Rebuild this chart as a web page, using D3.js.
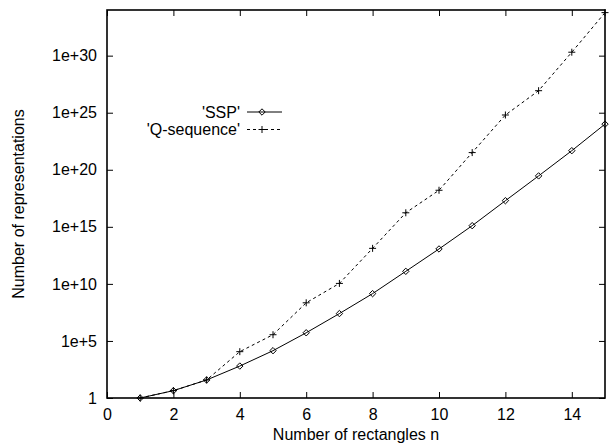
<!DOCTYPE html>
<html>
<head>
<meta charset="utf-8">
<script src="https://cdn.jsdelivr.net/npm/d3@7"></script>
<style>
  body { margin: 0; background: #fff; }
  text { font-family: "Liberation Sans", Arial, Helvetica, sans-serif; font-size: 16px; fill: #000; }
</style>
</head>
<body>
<div id="vis"></div>
<script>
// values
var nValues = [1, 2, 3, 4, 5, 6, 7, 8, 9, 10, 11, 12, 13, 14, 15];
var sspValues = [1, 4.4, 38, 630, 1.4e4, 5.2e5, 2.5e7, 1.4e9, 1.26e11, 1.15e13, 1.26e15, 1.95e17, 2.9e19, 4.7e21, 1e24];
var qseqValues = [1, 4.4, 38, 1.15e4, 3.5e5, 2.2e8, 1.1e10, 1.3e13, 1.7e16, 1.6e18, 3.2e21, 6.3e24, 8.5e26, 2e30, 5.9e33];
var xTicks = [0, 2, 4, 6, 8, 10, 12, 14];
var yTicks = [1, 1e5, 1e10, 1e15, 1e20, 1e25, 1e30];
var yTickLabels = ['1', '1e+5', '1e+10', '1e+15', '1e+20', '1e+25', '1e+30'];
var seriesNames = ["'SSP'", "'Q-sequence'"];

var width = 611, height = 443;
var margin = {left: 107, right: 6, top: 10, bottom: 45};
var drawWidth = width - margin.left - margin.right,
    drawHeight = height - margin.top - margin.bottom;

var svg = d3.select('#vis').append('svg')
            .attr('width', width)
            .attr('height', height);
var g = svg.append('g')
           .attr('transform', `translate(${margin.left},${margin.top})`);

var xScale = d3.scaleLinear().domain([0, 15]).range([0, drawWidth]);
var yScale = d3.scaleLog().domain([1, 1e34]).range([drawHeight, 0]);

// axes, ticks pointing inward and mirrored on top/right
var tickLen = 6;
var xAxis = d3.axisBottom(xScale).tickValues(xTicks).tickSizeInner(-tickLen).tickSizeOuter(0).tickPadding(11);
var xAxisTop = d3.axisTop(xScale).tickValues(xTicks).tickSizeInner(-tickLen).tickSizeOuter(0).tickFormat('');
var yAxis = d3.axisLeft(yScale).tickValues(yTicks).tickSizeInner(-tickLen).tickSizeOuter(0).tickPadding(10)
              .tickFormat((d, i) => yTickLabels[i]);
var yAxisRight = d3.axisRight(yScale).tickValues(yTicks).tickSizeInner(-tickLen).tickSizeOuter(0).tickFormat('');

function styleAxis(sel) {
    sel.select('.domain').remove();
    sel.selectAll('line').attr('stroke', '#000').attr('stroke-width', 1);
    sel.selectAll('text').attr('font-size', null).attr('font-family', null).attr('fill', '#000');
}

g.append('g').attr('transform', `translate(0,${drawHeight})`).call(xAxis).call(styleAxis);
g.append('g').call(xAxisTop).call(styleAxis);
g.append('g').call(yAxis).call(styleAxis);
g.append('g').attr('transform', `translate(${drawWidth},0)`).call(yAxisRight).call(styleAxis);

// frame
g.append('rect')
 .attr('x', 0).attr('y', 0)
 .attr('width', drawWidth).attr('height', drawHeight)
 .attr('fill', 'none')
 .attr('stroke', '#000')
 .attr('stroke-width', 1.6);

// axis titles
svg.append('text')
   .attr('x', margin.left + drawWidth / 2)
   .attr('y', 440)
   .attr('text-anchor', 'middle')
   .text('Number of rectangles n');

svg.append('text')
   .attr('transform', `translate(24,${margin.top + 194}) rotate(-90)`)
   .attr('text-anchor', 'middle')
   .text('Number of representations');

// data lines
var line = (vals) => d3.line()
    .x((d, i) => xScale(nValues[i]))
    .y((d) => yScale(d))(vals);

var plot = g.append('g');
plot.append('path')
    .attr('d', line(qseqValues))
    .attr('fill', 'none')
    .attr('stroke', '#000')
    .attr('stroke-width', 1)
    .attr('stroke-dasharray', '3,3');
plot.append('path')
    .attr('d', line(sspValues))
    .attr('fill', 'none')
    .attr('stroke', '#000')
    .attr('stroke-width', 1);

var diamond = 'M0,-3.2L3.2,0L0,3.2L-3.2,0Z';
var plus = 'M-3.5,0H3.5M0,-3.5V3.5';

plot.selectAll('.ssp-pt')
    .data(sspValues)
    .enter().append('path')
    .attr('class', 'ssp-pt')
    .attr('transform', (d, i) => `translate(${xScale(nValues[i])},${yScale(d)})`)
    .attr('d', diamond)
    .attr('fill', 'none')
    .attr('stroke', '#000')
    .attr('stroke-width', 1);

plot.selectAll('.q-pt')
    .data(qseqValues)
    .enter().append('path')
    .attr('class', 'q-pt')
    .attr('transform', (d, i) => `translate(${xScale(nValues[i])},${yScale(d)})`)
    .attr('d', plus)
    .attr('stroke', '#000')
    .attr('stroke-width', 1);

// legend
var legend = svg.selectAll('.legend')
                .data(seriesNames)
                .enter().append('g')
                .attr('class', 'legend')
                .attr('transform', (d, i) => `translate(0,${112 + i * 17.5})`);

legend.append('text')
      .attr('x', 240)
      .attr('dy', '0.35em')
      .attr('text-anchor', 'end')
      .text((d) => d);

legend.append('line')
      .attr('x1', 247).attr('x2', 282)
      .attr('stroke', '#000')
      .attr('stroke-width', 1)
      .attr('stroke-dasharray', (d, i) => i === 0 ? null : '3,3');

legend.append('path')
      .attr('transform', 'translate(262,0)')
      .attr('d', (d, i) => i === 0 ? diamond : plus)
      .attr('fill', 'none')
      .attr('stroke', '#000')
      .attr('stroke-width', 1);
</script>
</body>
</html>
